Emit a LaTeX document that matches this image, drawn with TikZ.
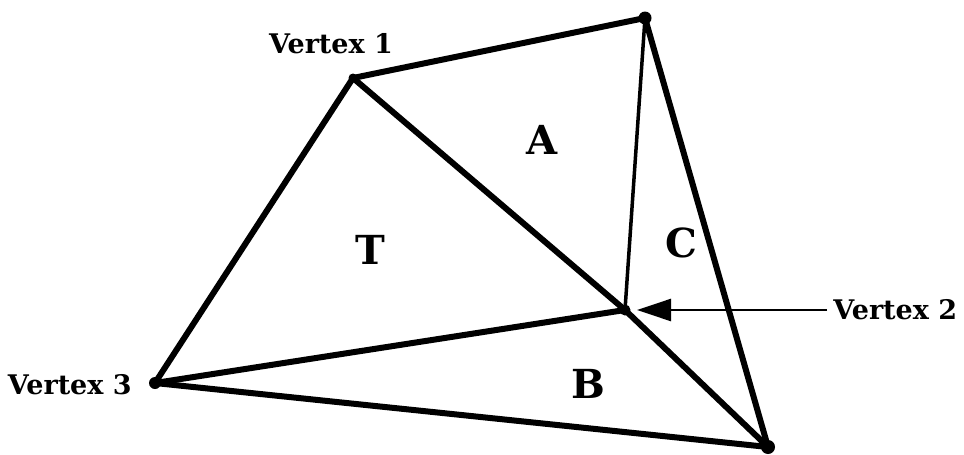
\documentclass[tikz,border=0pt]{standalone}
\usepackage{fontspec}
\setmainfont{DejaVu Serif}
\usetikzlibrary{arrows.meta, positioning}
\tikzset{
  every picture/.style={font=\bfseries, line width=6pt},
  vert/.style={circle, fill=black, inner sep=0pt, minimum size=#1},
  vert/.default=10pt,
  edge/.style={draw=black, line width=6pt, line cap=round, line join=round},
  thinedge/.style={draw=black, line width=3.5pt, line cap=round},
  vlabel/.style={font=\fontsize{27}{30}\selectfont\bfseries},
  region/.style={font=\fontsize{40}{44}\selectfont\bfseries},
  pointer/.style={-{Triangle[length=34pt, width=22pt]}, draw=black, line width=2.5pt},
}
\begin{document}
\begin{tikzpicture}[x=1pt, y=-1pt]
  \useasboundingbox (0,0) rectangle (964,455);
  % vertices
  \node[vert=9pt] (v1) at (353,78) {};
  \node[vert=13pt] (vt) at (645,18) {};
  \node[vert=11pt] (v2) at (625,310) {};
  \node[vert=12pt] (v3) at (155,383) {};
  \node[vert=14pt] (vb) at (768,447) {};
  % edges
  \draw[edge] (v1.center) -- (vt.center);
  \draw[edge] (v1.center) -- (v3.center);
  \draw[edge] (v1.center) -- (v2.center);
  \draw[edge] (v2.center) -- (vb.center);
  \draw[edge] (v3.center) -- (v2.center);
  \draw[edge] (v3.center) -- (vb.center);
  \draw[edge] (vt.center) -- (vb.center);
  \draw[thinedge] (vt.center) -- (v2.center);
  % region labels
  \node[region] (A) at (542,140) {A};
  \node[region] (T) at (370,250) {T};
  \node[region] (C) at (681,243) {C};
  \node[region] (B) at (588,384) {B};
  % vertex labels
  \node[vlabel] (l1) at (331,44) {Vertex 1};
  \node[vlabel, anchor=east] (l3) at (138,385) {Vertex 3};
  \node[vlabel, anchor=west] (l2) at (827,310) {Vertex 2};
  \draw[pointer] (l2.west) -- ([xshift=12pt]v2.center);
\end{tikzpicture}
\end{document}
